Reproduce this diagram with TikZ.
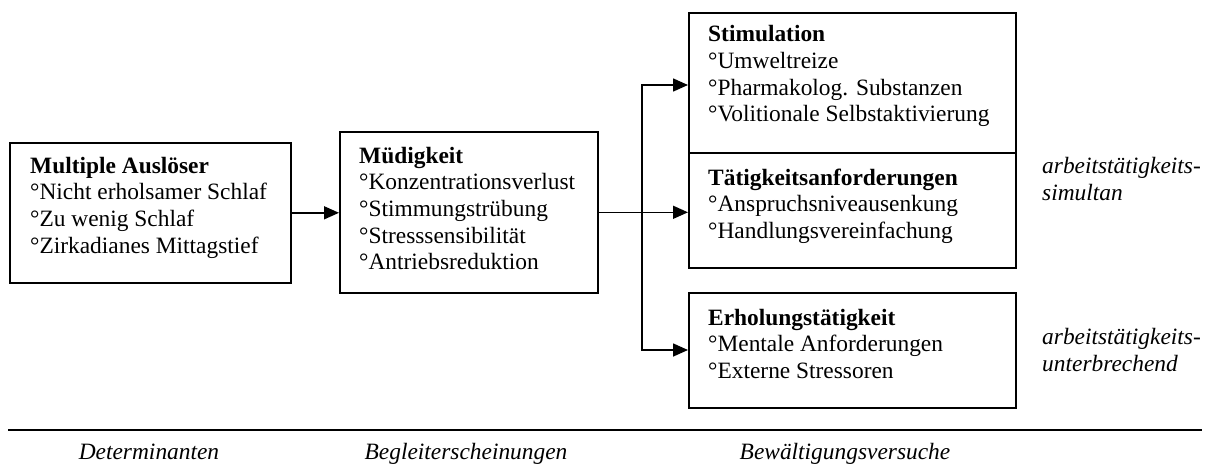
\documentclass[tikz,border=0pt]{standalone}
\usepackage{fontspec}
\setmainfont{Liberation Serif}
\usetikzlibrary{arrows.meta}
\tikzset{
  box/.style={draw, line width=1.6pt, anchor=north west, inner sep=0pt},
  txt/.style={anchor=north west, inner sep=0pt, align=left, font=\fontsize{23.4}{26.6}\selectfont},
  lab/.style={anchor=base, inner sep=0pt, font=\fontsize{23.4}{26.6}\selectfont\itshape},
  side/.style={anchor=north west, inner sep=0pt, align=left, font=\fontsize{23.4}{26.6}\selectfont\itshape},
  conn/.style={line width=1.6pt},
  arr/.style={line width=1.6pt, -{Triangle[length=15pt,width=13pt]}},
  arrb/.style={line width=1.6pt, {Triangle[length=15pt,width=13pt]}-{Triangle[length=15pt,width=13pt]}}
}
\begin{document}
\begin{tikzpicture}[x=1pt,y=-1pt]
\useasboundingbox (0,0) rectangle (1205,466);
% boxes
\node[box, minimum width=281pt, minimum height=140pt] (A) at (9,142) {};
\node[box, minimum width=258pt, minimum height=161pt] (B) at (339,131) {};
\node[box, minimum width=327pt, minimum height=140pt] (C) at (688,12) {};
\node[box, minimum width=327pt, minimum height=115pt] (D) at (688,152) {};
\node[box, minimum width=327pt, minimum height=115pt] (E) at (688,292) {};
% texts
\node[txt] (tA) at (30,154.4) {\strut\textbf{Multiple Auslöser}\\\strut°Nicht erholsamer Schlaf\\\strut°Zu wenig Schlaf\\\strut°Zirkadianes Mittagstief};
\node[txt] (tB) at (359,144.4) {\strut\textbf{Müdigkeit}\\\strut°Konzentrationsverlust\\\strut°Stimmungstrübung\\\strut°Stresssensibilität\\\strut°Antriebsreduktion};
\node[txt] (tC) at (708,23.1) {\strut\textbf{Stimulation}\\\strut°Umweltreize\\\strut°Pharmakolog. Substanzen\\\strut°Volitionale Selbstaktivierung};
\node[txt] (tD) at (708,166.4) {\strut\textbf{Tätigkeitsanforderungen}\\\strut°Anspruchsniveausenkung\\\strut°Handlungsvereinfachung};
\node[txt] (tE) at (708,306.4) {\strut\textbf{Erholungstätigkeit}\\\strut°Mentale Anforderungen\\\strut°Externe Stressoren};
% side labels
\node[side] (s1) at (1042,155) {\strut arbeitstätigkeits-\\\strut simultan};
\node[side] (s2) at (1042,326) {\strut arbeitstätigkeits-\\\strut unterbrechend};
% connectors
\draw[arr] (A.east) -- (A.east -| B.west);
\draw[arr] (B.east) -- (B.east -| D.west);
\coordinate (jt) at (642,85);
\coordinate (jb) at (642,350);
\draw[arrb] (jt -| C.west) -- (jt) -- (jb) -- (jb -| E.west);
% bottom rule and labels
\coordinate (r1) at (8,430);
\coordinate (r2) at (1202,430);
\draw[conn] (r1) -- (r2);
\node[lab] (l1) at (149,459) {Determinanten};
\node[lab] (l2) at (466,459) {Begleiterscheinungen};
\node[lab] (l3) at (845,459) {Bewältigungsversuche};
\end{tikzpicture}
\end{document}
